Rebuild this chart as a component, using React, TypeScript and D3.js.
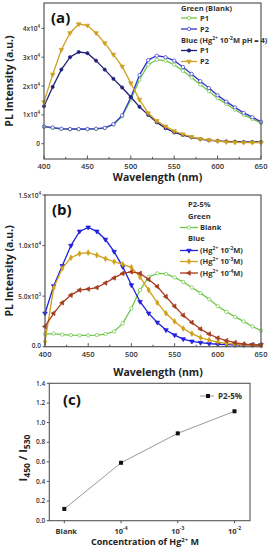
import React, { useEffect, useRef } from 'react';
import * as d3 from 'd3';

const svgWidth = 271;
const svgHeight = 550;

// wavelength grid (nm) shared by panels (a) and (b)
const wavelengths = [400, 410, 420, 430, 440, 450, 460, 470, 480, 490, 500, 510, 520, 530, 540, 550, 560, 570, 580, 590, 600, 610, 620, 630, 640, 650];

// panel (a), intensity in units of 1e4
const aGreenP1 = [0.58, 0.55, 0.51, 0.5, 0.5, 0.5, 0.51, 0.54, 0.66, 0.95, 1.53, 2.22, 2.74, 2.91, 2.88, 2.74, 2.53, 2.3, 2.05, 1.82, 1.58, 1.38, 1.18, 1.0, 0.86, 0.72];
const aGreenP2 = [0.6, 0.56, 0.52, 0.51, 0.51, 0.51, 0.52, 0.55, 0.68, 0.98, 1.6, 2.38, 2.9, 3.05, 3.0, 2.88, 2.66, 2.42, 2.17, 1.93, 1.68, 1.46, 1.26, 1.07, 0.92, 0.76];
const aBlueP1 = [1.3, 1.97, 2.57, 3.0, 3.18, 3.14, 2.88, 2.57, 2.25, 1.95, 1.62, 1.28, 1.0, 0.74, 0.54, 0.39, 0.3, 0.22, 0.16, 0.12, 0.1, 0.08, 0.07, 0.06, 0.06, 0.06];
const aBlueP2 = [1.45, 2.4, 3.26, 3.84, 4.15, 4.1, 3.84, 3.49, 3.09, 2.68, 2.1, 1.53, 1.06, 0.79, 0.6, 0.44, 0.33, 0.24, 0.17, 0.13, 0.09, 0.06, 0.05, 0.04, 0.04, 0.04];
const aYTicks = [0, 1, 2, 3, 4];

// panel (b), intensity in units of 1e3
const bBlank = [1.25, 1.3, 1.2, 1.15, 1.12, 1.12, 1.15, 1.25, 1.5, 2.3, 3.8, 5.6, 6.9, 7.25, 7.2, 6.85, 6.4, 5.85, 5.3, 4.7, 4.0, 3.45, 2.95, 2.5, 2.0, 1.6];
const bHg2 = [3.3, 6.0, 8.0, 10.0, 11.4, 11.8, 11.4, 10.6, 9.4, 7.9, 6.1, 4.45, 3.3, 2.4, 1.65, 1.15, 0.76, 0.53, 0.4, 0.3, 0.24, 0.21, 0.19, 0.18, 0.18, 0.18];
const bHg3 = [0.5, 5.8, 7.75, 8.8, 9.2, 9.3, 9.05, 8.7, 8.4, 8.15, 7.85, 6.9, 5.6, 4.35, 3.3, 2.5, 1.8, 1.3, 0.9, 0.66, 0.46, 0.33, 0.26, 0.2, 0.17, 0.16];
const bHg4 = [2.0, 3.3, 4.35, 5.1, 5.6, 5.7, 5.85, 6.3, 6.8, 7.25, 7.4, 7.25, 6.65, 5.95, 4.95, 4.0, 3.1, 2.4, 1.75, 1.25, 0.86, 0.6, 0.4, 0.26, 0.2, 0.16];
const bYTicks = [0, 5, 10, 15];
const bYLabels = [['0.0', ''], ['5.0x10', '3'], ['1.0x10', '4'], ['1.5x10', '4']];

// panel (c)
const cCategories = ['Blank', '-4', '-3', '-2'];
const cRatio = [0.12, 0.59, 0.89, 1.115];
const cYTicks = [0, 0.2, 0.4, 0.6, 0.8, 1.0, 1.2, 1.4];

const xTicks = [400, 450, 500, 550, 600, 650];
const xMinor = [425, 475, 525, 575, 625];

const FONT = "'Open Sans', 'DejaVu Sans', sans-serif";
const TXT = '#333';

const App: React.FC = () => {
  const svgRef = useRef<SVGSVGElement | null>(null);

  useEffect(() => {
    const svg = d3.select(svgRef.current);
    svg.selectAll('*').remove();
    svg.attr('font-family', FONT);

    const sym = (type: d3.SymbolType, size: number) => d3.symbol().type(type).size(size)();

    // generic spectrum panel
    const drawSpectrum = (
      x0: number, x1: number, yTop: number, yBot: number,
      yDomain: [number, number], yTicks: number[],
      yLabel: (t: number, i: number) => [string, string],
      series: { values: number[]; color: string; marker: string; fill: string; rot?: number; size?: number }[],
      tag: string,
      titleY: number,
    ) => {
      const x = d3.scaleLinear().domain([400, 650]).range([x0, x1]);
      const y = d3.scaleLinear().domain(yDomain).range([yBot, yTop]);
      const g = svg.append('g');

      // lines & markers
      series.forEach((s) => {
        const pts = wavelengths.map((w, i) => ({ w, v: s.values[i] }));
        const line = d3.line<{ w: number; v: number }>().x((d) => x(d.w)).y((d) => y(d.v));
        g.append('path').datum(pts).attr('d', line).attr('fill', 'none').attr('stroke', s.color).attr('stroke-width', 1.3);
        const type = s.marker === 'circle' ? d3.symbolCircle : s.marker === 'diamond' ? d3.symbolDiamond : d3.symbolTriangle;
        g.selectAll(null).data(pts).join('path')
          .attr('d', sym(type, s.size ?? 9))
          .attr('transform', (d) => `translate(${x(d.w)},${y(d.v)}) rotate(${s.rot ?? 0})`)
          .attr('fill', s.fill).attr('stroke', s.color).attr('stroke-width', 0.7);
      });

      // frame
      g.append('rect').attr('x', x0).attr('y', yTop).attr('width', x1 - x0).attr('height', yBot - yTop)
        .attr('fill', 'none').attr('stroke', '#555').attr('stroke-width', 1.2);

      // x ticks
      xTicks.forEach((t) => {
        g.append('line').attr('x1', x(t)).attr('x2', x(t)).attr('y1', yBot).attr('y2', yBot - 3.5).attr('stroke', '#555');
        g.append('text').attr('x', x(t)).attr('y', yBot + 10).attr('text-anchor', 'middle')
          .attr('font-size', 7.5).attr('fill', TXT).attr('font-weight', 600).text(t);
      });
      xMinor.forEach((t) => {
        g.append('line').attr('x1', x(t)).attr('x2', x(t)).attr('y1', yBot).attr('y2', yBot - 2).attr('stroke', '#555');
      });

      // y ticks
      yTicks.forEach((t, i) => {
        g.append('line').attr('x1', x0).attr('x2', x0 - 2.5).attr('y1', y(t)).attr('y2', y(t)).attr('stroke', '#555');
        const [base, sup] = yLabel(t, i);
        const tx = g.append('text').attr('x', x0 - 4).attr('y', y(t) + (t === 0 && i === 0 && yDomain[0] === 0 ? 1.5 : 2.5))
          .attr('text-anchor', 'end')
          .attr('font-size', 6.5).attr('fill', TXT).attr('font-weight', 600);
        tx.append('tspan').text(base);
        if (sup) tx.append('tspan').attr('font-size', 4.5).attr('dy', -3).text(sup);
      });

      // axis titles
      g.append('text').attr('x', (x0 + x1) / 2 + 5).attr('y', titleY).attr('text-anchor', 'middle')
        .attr('font-size', 10.5).attr('font-weight', 'bold').attr('fill', '#222').text('Wavelength (nm)');
      g.append('text').attr('transform', `translate(13,${(yTop + yBot) / 2}) rotate(-90)`).attr('text-anchor', 'middle')
        .attr('font-size', 10.5).attr('font-weight', 'bold').attr('fill', '#222').text('PL Intensity (a.u.)');
      g.append('text').attr('x', x0 + 7).attr('y', yTop + 20).attr('font-size', 15).attr('font-weight', 'bold')
        .attr('fill', '#111').text(tag);
      return g;
    };

    // ---- panel (a)
    const cGreen = '#6cc644';
    const cBlueOpen = '#3535d0';
    const cNavy = '#202078';
    const cGold = '#cfa024';
    const gA = drawSpectrum(44, 261, 3, 159, [-0.53, 4.88], aYTicks,
      (t) => (t === 0 ? ['0', ''] : [`${t}x10`, '4']),
      [
        { values: aGreenP1, color: cGreen, marker: 'circle', fill: '#fff', size: 9 },
        { values: aGreenP2, color: cBlueOpen, marker: 'circle', fill: '#fff', size: 9 },
        { values: aBlueP1, color: cNavy, marker: 'circle', fill: cNavy, size: 8 },
        { values: aBlueP2, color: cGold, marker: 'triangle', fill: cGold, rot: 180, size: 9 },
      ], '(a)', 181);

    const legA = [
      { t: 'Green (Blank)', y: 11 },
      { t: 'P1', y: 20.5, c: cGreen, f: '#fff', m: d3.symbolCircle, r: 0 },
      { t: 'P2', y: 31.5, c: cBlueOpen, f: '#fff', m: d3.symbolCircle, r: 0 },
      { t: 'Blue', y: 43 },
      { t: 'P1', y: 53, c: cNavy, f: cNavy, m: d3.symbolCircle, r: 0 },
      { t: 'P2', y: 64, c: cGold, f: cGold, m: d3.symbolTriangle, r: 180 },
    ];
    legA.forEach((l) => {
      if (l.c) {
        gA.append('line').attr('x1', 181).attr('x2', 197).attr('y1', l.y - 2.5).attr('y2', l.y - 2.5).attr('stroke', l.c).attr('stroke-width', 1.3);
        gA.append('path').attr('d', sym(l.m!, 9)).attr('transform', `translate(189,${l.y - 2.5}) rotate(${l.r})`)
          .attr('fill', l.f!).attr('stroke', l.c).attr('stroke-width', 0.7);
        gA.append('text').attr('x', 200).attr('y', l.y).attr('font-size', 7.5).attr('font-weight', 'bold').attr('fill', TXT).text(l.t);
      } else if (l.t === 'Blue') {
        const tx = gA.append('text').attr('x', 181).attr('y', l.y).attr('font-size', 7.5).attr('font-weight', 'bold').attr('fill', TXT);
        tx.append('tspan').text('Blue (Hg');
        tx.append('tspan').attr('font-size', 5).attr('dy', -3).text('2+');
        tx.append('tspan').attr('dy', 3).text(' 10');
        tx.append('tspan').attr('font-size', 5).attr('dy', -3).text('-2');
        tx.append('tspan').attr('dy', 3).text('M pH = 4)');
      } else {
        gA.append('text').attr('x', 181).attr('y', l.y).attr('font-size', 7.5).attr('font-weight', 'bold').attr('fill', TXT).text(l.t);
      }
    });

    // ---- panel (b)
    const bBlue = '#2020dd';
    const bGoldC = '#d1a018';
    const bRed = '#a63c1e';
    const gB = drawSpectrum(45, 261, 195, 346.7, [0, 15], bYTicks,
      (_t, i) => bYLabels[i] as [string, string],
      [
        { values: bBlank, color: cGreen, marker: 'circle', fill: '#fff', size: 9 },
        { values: bHg2, color: bBlue, marker: 'triangle', fill: bBlue, rot: 180, size: 9 },
        { values: bHg3, color: bGoldC, marker: 'diamond', fill: bGoldC, size: 9 },
        { values: bHg4, color: bRed, marker: 'triangle', fill: bRed, rot: -90, size: 9 },
      ], '(b)', 376);

    const legB = [
      { t: 'P2-5%', y: 207 },
      { t: 'Green', y: 218.5 },
      { t: 'Blank', y: 230, c: cGreen, f: '#fff', m: d3.symbolCircle, r: 0 },
      { t: 'Blue', y: 241 },
      { t: '-2', y: 253, c: bBlue, f: bBlue, m: d3.symbolTriangle, r: 180 },
      { t: '-3', y: 264, c: bGoldC, f: bGoldC, m: d3.symbolDiamond, r: 0 },
      { t: '-4', y: 275.5, c: bRed, f: bRed, m: d3.symbolTriangle, r: -90 },
    ];
    legB.forEach((l) => {
      if (!l.c) {
        gB.append('text').attr('x', 188).attr('y', l.y).attr('font-size', 7.5).attr('font-weight', 'bold').attr('fill', TXT).text(l.t);
        return;
      }
      gB.append('line').attr('x1', 180).attr('x2', 198).attr('y1', l.y - 2.5).attr('y2', l.y - 2.5).attr('stroke', l.c).attr('stroke-width', 1.3);
      gB.append('path').attr('d', sym(l.m!, 9)).attr('transform', `translate(189,${l.y - 2.5}) rotate(${l.r})`)
        .attr('fill', l.f!).attr('stroke', l.c).attr('stroke-width', 0.7);
      const tx = gB.append('text').attr('x', 200).attr('y', l.y).attr('font-size', 7.5).attr('font-weight', 'bold').attr('fill', TXT);
      if (l.t === 'Blank') {
        tx.text('Blank');
      } else {
        tx.append('tspan').text('(Hg');
        tx.append('tspan').attr('font-size', 5).attr('dy', -3).text('2+');
        tx.append('tspan').attr('dy', 3).text(' 10');
        tx.append('tspan').attr('font-size', 5).attr('dy', -3).text(l.t);
        tx.append('tspan').attr('dy', 3).text('M)');
      }
    });

    // ---- panel (c)
    const cx0 = 49.3, cx1 = 250, cyTop = 383.3, cyBot = 520.7;
    const xc = d3.scalePoint<string>().domain(cCategories).range([64.3, 234.5]);
    const yc = d3.scaleLinear().domain([0, 1.4]).range([cyBot, cyTop]);
    const gC = svg.append('g');
    gC.append('rect').attr('x', cx0).attr('y', cyTop).attr('width', cx1 - cx0).attr('height', cyBot - cyTop)
      .attr('fill', 'none').attr('stroke', '#555').attr('stroke-width', 1.1);
    const pts = cCategories.map((c, i) => ({ c, v: cRatio[i] }));
    gC.append('path').datum(pts)
      .attr('d', d3.line<{ c: string; v: number }>().x((d) => xc(d.c)!).y((d) => yc(d.v)))
      .attr('fill', 'none').attr('stroke', '#9a9a9a').attr('stroke-width', 1);
    gC.selectAll(null).data(pts).join('rect')
      .attr('x', (d) => xc(d.c)! - 2).attr('y', (d) => yc(d.v) - 2).attr('width', 4).attr('height', 4).attr('fill', '#111');

    cYTicks.forEach((t) => {
      gC.append('line').attr('x1', cx0).attr('x2', cx0 - 2.5).attr('y1', yc(t)).attr('y2', yc(t)).attr('stroke', '#555');
      gC.append('text').attr('x', cx0 - 4).attr('y', yc(t) + 2.3).attr('text-anchor', 'end').attr('font-size', 6.5)
        .attr('font-weight', 600).attr('fill', TXT).text(t.toFixed(1));
    });
    cCategories.forEach((c) => {
      gC.append('line').attr('x1', xc(c)!).attr('x2', xc(c)!).attr('y1', cyBot).attr('y2', cyBot + 2.5).attr('stroke', '#555');
      const tx = gC.append('text').attr('x', xc(c)! + (c === 'Blank' ? 2 : 0)).attr('y', cyBot + 13).attr('text-anchor', 'middle')
        .attr('font-size', 7.5).attr('font-weight', 'bold').attr('fill', TXT);
      if (c === 'Blank') tx.text('Blank');
      else {
        tx.append('tspan').text('10');
        tx.append('tspan').attr('font-size', 5).attr('dy', -3.5).text(c);
      }
    });

    const xt = gC.append('text').attr('x', 145).attr('y', 545).attr('text-anchor', 'middle')
      .attr('font-size', 9).attr('font-weight', 'bold').attr('fill', '#222');
    xt.append('tspan').text('Concentration of Hg');
    xt.append('tspan').attr('font-size', 6).attr('dy', -3.5).text('2+');
    xt.append('tspan').attr('dy', 3.5).text(' M');

    const yt = gC.append('text').attr('transform', `translate(27,${(cyTop + cyBot) / 2 + 6}) rotate(-90)`)
      .attr('text-anchor', 'middle').attr('font-size', 11).attr('font-weight', 'bold').attr('fill', '#222');
    yt.append('tspan').text('I');
    yt.append('tspan').attr('font-size', 8.5).attr('dy', 3).text('450');
    yt.append('tspan').attr('dy', -3).text(' / I');
    yt.append('tspan').attr('font-size', 8.5).attr('dy', 3).text('530');

    gC.append('text').attr('x', 63).attr('y', 405).attr('font-size', 15).attr('font-weight', 'bold').attr('fill', '#111').text('(c)');
    gC.append('line').attr('x1', 200).attr('x2', 214).attr('y1', 396).attr('y2', 396).attr('stroke', '#9a9a9a');
    gC.append('rect').attr('x', 206).attr('y', 394).attr('width', 4).attr('height', 4).attr('fill', '#111');
    gC.append('text').attr('x', 218).attr('y', 399).attr('font-size', 8).attr('font-weight', 'bold').attr('fill', TXT).text('P2-5%');
  }, []);

  return (
    <svg ref={svgRef} width={svgWidth} height={svgHeight}
      style={{ position: 'absolute', left: 0, top: 0, background: '#fff' }} />
  );
};

export default App;
